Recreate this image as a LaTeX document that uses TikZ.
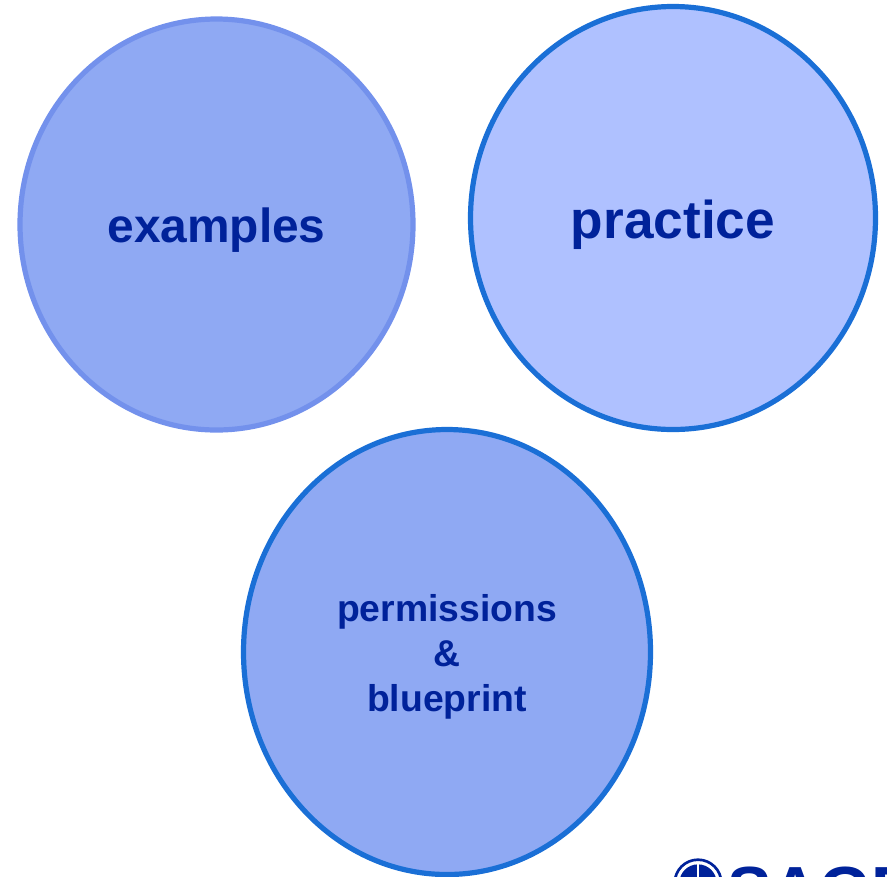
\documentclass[tikz,border=0pt]{standalone}
\usepackage{fontspec}
\setmainfont{Liberation Sans}
\usetikzlibrary{shapes.geometric}
\definecolor{fillA}{HTML}{8FA9F3}
\definecolor{fillB}{HTML}{AFC1FF}
\definecolor{edgeA}{HTML}{7391EC}
\definecolor{edgeB}{HTML}{1A6FD6}
\definecolor{inkblue}{HTML}{00229A}
\tikzset{
  bubble/.style={ellipse,draw,line width=3.9pt,inner sep=0pt,outer sep=0pt,text=inkblue,font=\bfseries,align=center},
}
\begin{document}
\begin{tikzpicture}[x=0.75pt,y=-0.75pt]
\useasboundingbox (0,0) rectangle (887,876);
\clip (0,0) rectangle (887,876);
\node[bubble,fill=fillA,draw=edgeA,minimum width=294.75pt,minimum height=308.25pt] (examples) at (216.5,224.5) {};
\node[font=\bfseries\fontsize{35.9}{40}\selectfont,text=inkblue,inner sep=0pt] (examplesT) at (216.5,230) {examples};
\node[bubble,fill=fillB,draw=edgeB,minimum width=303.75pt,minimum height=317.25pt] (practice) at (673,218) {};
\node[font=\bfseries\fontsize{39.9}{44}\selectfont,text=inkblue,inner sep=0pt] (practiceT) at (673,225) {practice};
\node[bubble,fill=fillA,draw=edgeB,minimum width=305.25pt,minimum height=333.75pt] (perm) at (447,652) {};
\node[font=\bfseries\fontsize{28}{33.75}\selectfont,text=inkblue,inner sep=0pt,align=center] (permT) at (447,657) {permissions\\\&\\blueprint};
% logo, cut by the page edge
\node[circle,draw=inkblue,line width=2pt,minimum size=35pt,inner sep=0pt] (logo) at (698,883) {};
\node[circle,fill=inkblue,minimum size=28pt,inner sep=0pt] (logoc) at (698,883) {};
\draw[white,line width=0.8pt] (logoc.north) -- (logoc.center);
\node[anchor=base west,inner sep=0pt,text=inkblue,font=\bfseries\fontsize{50}{55}\selectfont] (sage) at (727,913) {SAGE};
\end{tikzpicture}
\end{document}
